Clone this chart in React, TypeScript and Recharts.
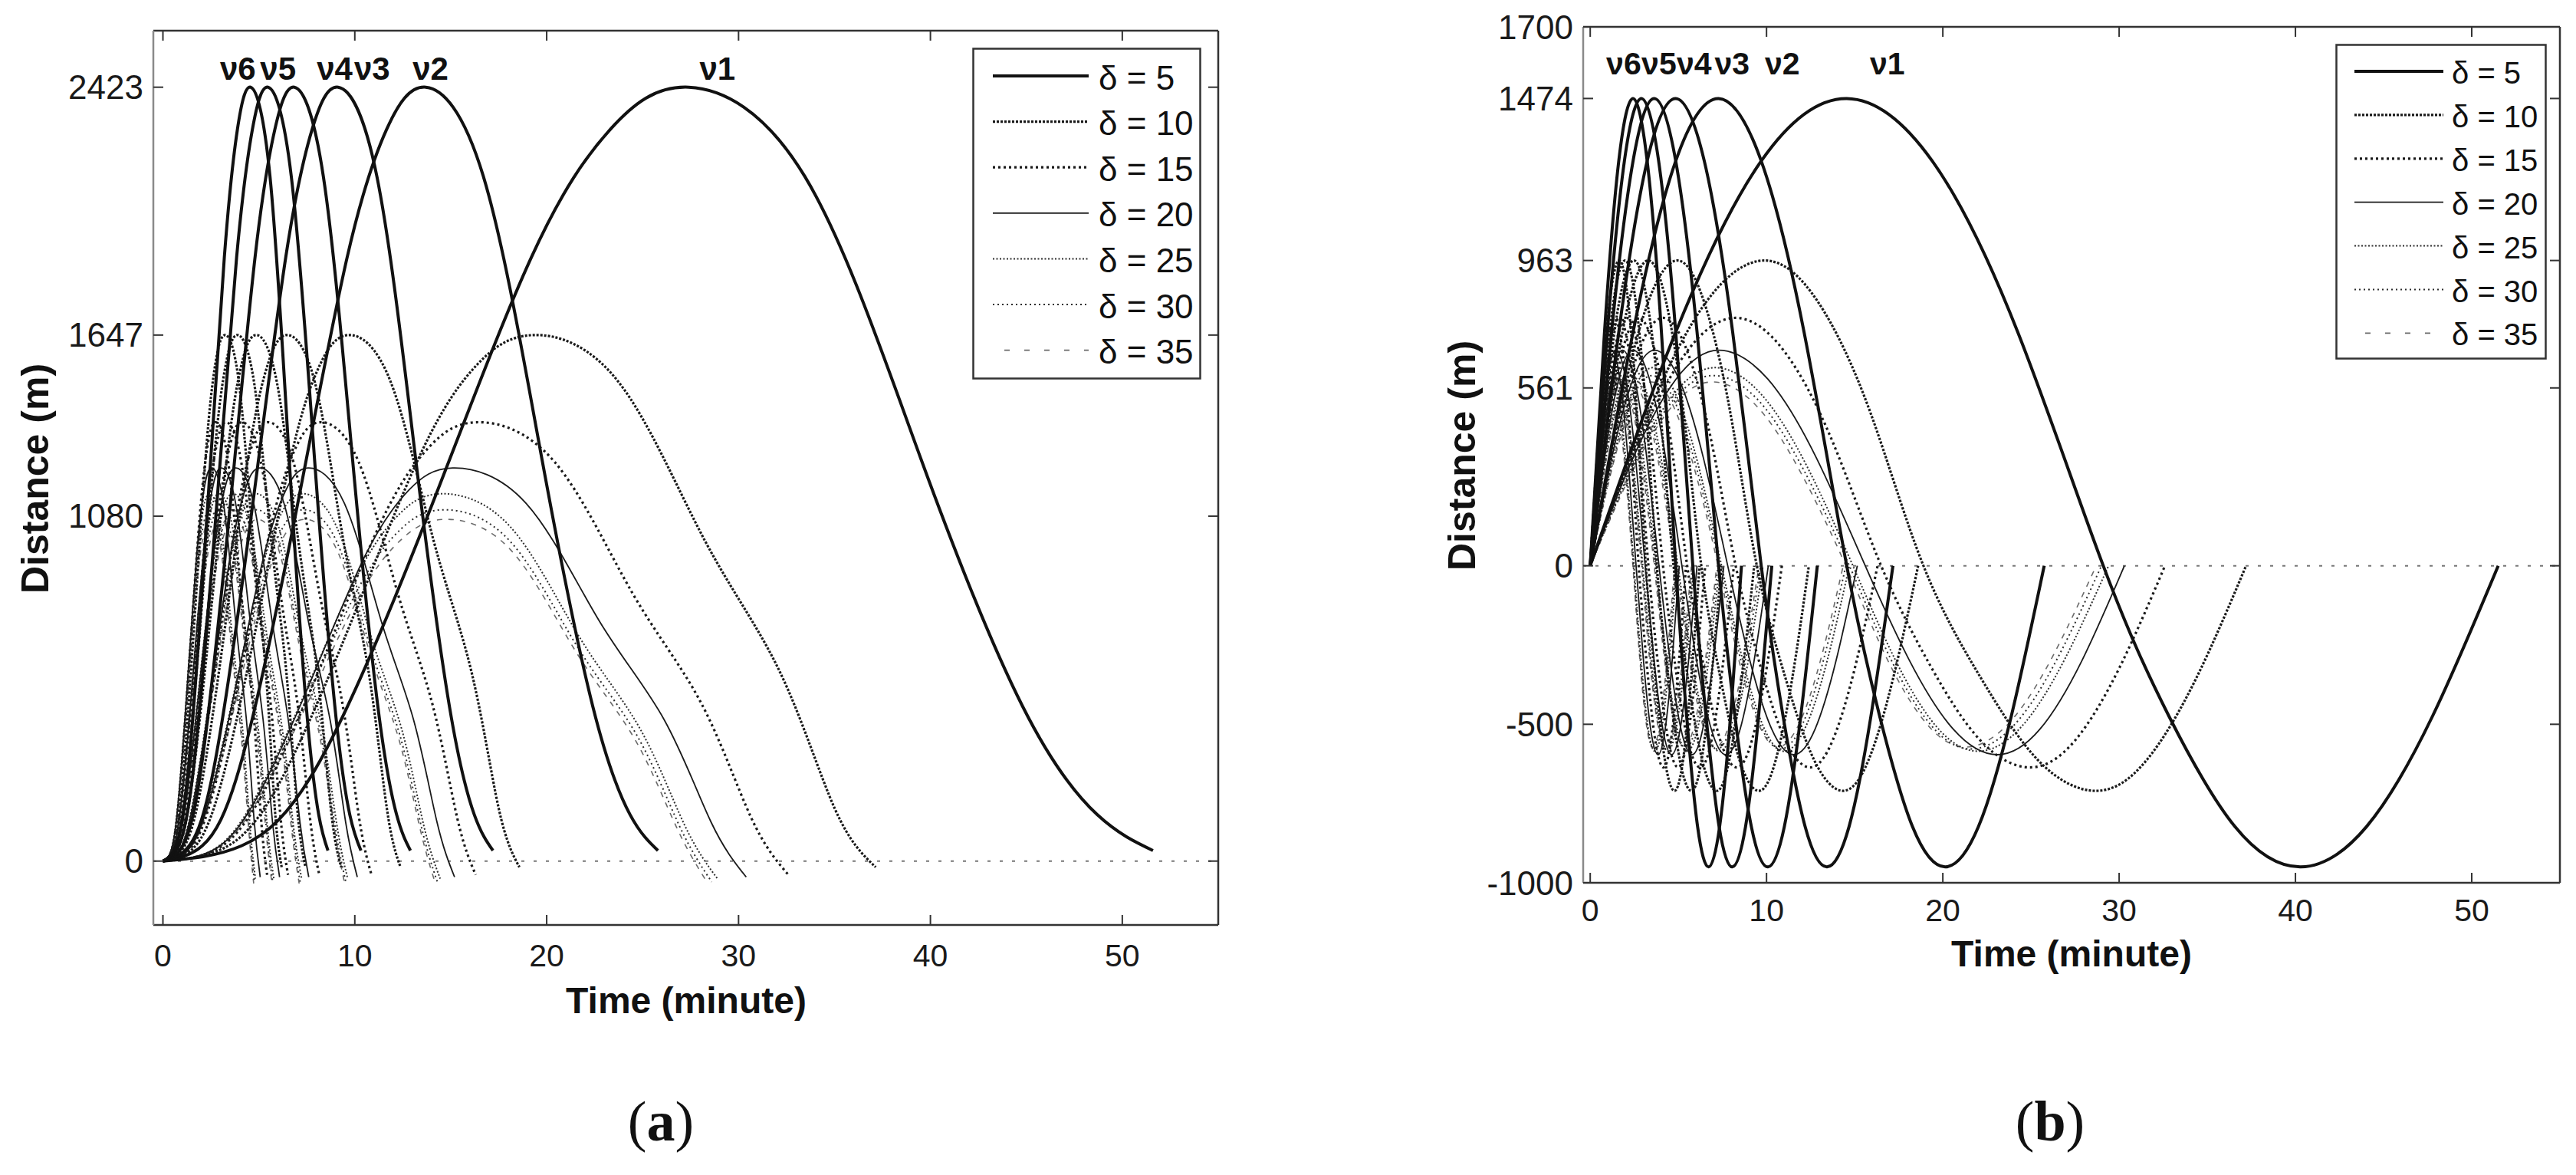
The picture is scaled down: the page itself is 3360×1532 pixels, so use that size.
import React from "react";
import { LineChart, Line, XAxis, YAxis, ReferenceLine, ReferenceDot, Legend, Label } from "recharts";

// ---- shared categories / ticks ----
const deltas = [5, 10, 15, 20, 25, 30, 35];
const timeTicks = [0, 10, 20, 30, 40, 50];
const distTicksA = [0, 1080, 1647, 2423];
const distTicksB = [-1000, -500, 0, 561, 963, 1474, 1700];
const nuNames = ["ν6", "ν5", "ν4", "ν3", "ν2", "ν1"];
const nuLabelTimeA = [3.91, 6.0, 8.95, 10.9, 13.95, 28.9];
const nuLabelTimeB = [1.9, 3.9, 5.9, 8.05, 10.9, 16.85];
const nuLabelDistA = 2482;
const nuLabelDistB = 1585;

// ---- panel (a): distance samples per delta, times per nu (nu1..nu6) ----
const aDist5 = [0, 48, 315, 1066, 1890, 2290, 2423, 2144, 1260, 485, 145, 33];
const aDist10 = [0, 33, 214, 725, 1285, 1556, 1647, 1499, 1005, 593, 165, -19];
const aDist15 = [0, 27, 179, 605, 1072, 1298, 1374, 1250, 838, 495, 137, -43];
const aDist20 = [0, 25, 160, 542, 960, 1163, 1231, 1120, 751, 443, 123, -50];
const aDist25 = [0, 23, 150, 506, 897, 1087, 1150, 1047, 702, 414, 115, -55];
const aDist30 = [0, 22, 143, 484, 858, 1040, 1100, 1001, 671, 396, 110, -65];
const aDist35 = [0, 21, 139, 471, 835, 1011, 1070, 974, 653, 385, 107, -70];

const aTime5 = [
  [0, 4.1, 8.2, 13.7, 19.2, 23.3, 27.4, 33.45, 39.5, 44.8, 48.7, 51.6],
  [0, 2.05, 4.1, 6.85, 9.6, 11.65, 13.7, 16.7, 19.75, 22.4, 24.35, 25.8],
  [0, 1.37, 2.73, 4.57, 6.4, 7.77, 9.13, 11.15, 13.17, 14.93, 16.23, 17.2],
  [0, 1.03, 2.05, 3.43, 4.8, 5.83, 6.85, 8.36, 9.88, 11.2, 12.18, 12.9],
  [0, 0.82, 1.64, 2.74, 3.84, 4.66, 5.48, 6.69, 7.9, 8.96, 9.74, 10.32],
  [0, 0.68, 1.37, 2.28, 3.2, 3.88, 4.57, 5.58, 6.58, 7.47, 8.12, 8.6],
];
const aTime10 = [
  [0, 2.9, 5.79, 9.65, 13.51, 16.4, 19.3, 23.76, 28.23, 32.15, 35.01, 37.15],
  [0, 1.45, 2.9, 4.83, 6.75, 8.2, 9.65, 11.88, 14.1, 16.08, 17.5, 18.58],
  [0, 0.97, 1.93, 3.22, 4.5, 5.47, 6.43, 7.92, 9.4, 10.72, 11.67, 12.38],
  [0, 0.73, 1.45, 2.41, 3.38, 4.1, 4.83, 5.94, 7.05, 8.04, 8.75, 9.29],
  [0, 0.58, 1.16, 1.93, 2.7, 3.28, 3.86, 4.75, 5.64, 6.43, 7.0, 7.43],
  [0, 0.48, 0.97, 1.61, 2.25, 2.73, 3.22, 3.96, 4.7, 5.36, 5.83, 6.19],
];
const aTime15 = [
  [0, 2.45, 4.9, 8.18, 11.45, 13.9, 16.35, 20.41, 24.48, 28.05, 30.65, 32.6],
  [0, 1.23, 2.45, 4.09, 5.73, 6.95, 8.18, 10.2, 12.24, 14.03, 15.33, 16.3],
  [0, 0.82, 1.63, 2.73, 3.82, 4.63, 5.45, 6.8, 8.16, 9.35, 10.22, 10.87],
  [0, 0.61, 1.23, 2.05, 2.86, 3.48, 4.09, 5.1, 6.12, 7.01, 7.66, 8.15],
  [0, 0.49, 0.98, 1.64, 2.29, 2.78, 3.27, 4.08, 4.9, 5.61, 6.13, 6.52],
  [0, 0.41, 0.82, 1.36, 1.91, 2.32, 2.73, 3.4, 4.08, 4.68, 5.11, 5.43],
];
const aTime20 = [
  [0, 2.27, 4.53, 7.55, 10.57, 12.84, 15.1, 18.93, 22.75, 26.12, 28.56, 30.4],
  [0, 1.13, 2.27, 3.78, 5.28, 6.42, 7.55, 9.46, 11.38, 13.06, 14.28, 15.2],
  [0, 0.76, 1.51, 2.52, 3.52, 4.28, 5.03, 6.31, 7.58, 8.71, 9.52, 10.13],
  [0, 0.57, 1.13, 1.89, 2.64, 3.21, 3.78, 4.73, 5.69, 6.53, 7.14, 7.6],
  [0, 0.45, 0.91, 1.51, 2.11, 2.57, 3.02, 3.79, 4.55, 5.22, 5.71, 6.08],
  [0, 0.38, 0.76, 1.26, 1.76, 2.14, 2.52, 3.16, 3.79, 4.35, 4.76, 5.07],
];
const aTime25 = [
  [0, 2.18, 4.35, 7.25, 10.15, 12.33, 14.5, 18.1, 21.7, 24.87, 27.17, 28.9],
  [0, 1.09, 2.18, 3.63, 5.08, 6.16, 7.25, 9.05, 10.85, 12.44, 13.58, 14.45],
  [0, 0.73, 1.45, 2.42, 3.38, 4.11, 4.83, 6.03, 7.23, 8.29, 9.06, 9.63],
  [0, 0.54, 1.09, 1.81, 2.54, 3.08, 3.63, 4.53, 5.43, 6.22, 6.79, 7.23],
  [0, 0.44, 0.87, 1.45, 2.03, 2.47, 2.9, 3.62, 4.34, 4.97, 5.43, 5.78],
  [0, 0.36, 0.73, 1.21, 1.69, 2.06, 2.42, 3.02, 3.62, 4.15, 4.53, 4.82],
];
const aTime30 = [
  [0, 2.19, 4.38, 7.3, 10.22, 12.41, 14.6, 18.1, 21.6, 24.68, 26.92, 28.6],
  [0, 1.1, 2.19, 3.65, 5.11, 6.21, 7.3, 9.05, 10.8, 12.34, 13.46, 14.3],
  [0, 0.73, 1.46, 2.43, 3.41, 4.14, 4.87, 6.03, 7.2, 8.23, 8.97, 9.53],
  [0, 0.55, 1.1, 1.83, 2.56, 3.1, 3.65, 4.53, 5.4, 6.17, 6.73, 7.15],
  [0, 0.44, 0.88, 1.46, 2.04, 2.48, 2.92, 3.62, 4.32, 4.94, 5.38, 5.72],
  [0, 0.37, 0.73, 1.22, 1.7, 2.07, 2.43, 3.02, 3.6, 4.11, 4.49, 4.77],
];
const aTime35 = [
  [0, 2.2, 4.41, 7.35, 10.29, 12.5, 14.7, 18.13, 21.55, 24.56, 26.76, 28.4],
  [0, 1.1, 2.21, 3.68, 5.15, 6.25, 7.35, 9.07, 10.78, 12.28, 13.38, 14.2],
  [0, 0.73, 1.47, 2.45, 3.43, 4.17, 4.9, 6.04, 7.18, 8.19, 8.92, 9.47],
  [0, 0.55, 1.1, 1.84, 2.57, 3.13, 3.68, 4.53, 5.39, 6.14, 6.69, 7.1],
  [0, 0.44, 0.88, 1.47, 2.06, 2.5, 2.94, 3.63, 4.31, 4.91, 5.35, 5.68],
  [0, 0.37, 0.74, 1.23, 1.72, 2.08, 2.45, 3.02, 3.59, 4.09, 4.46, 4.73],
];

// ---- panel (b) ----
const bDist5 = [0, 737, 1277, 1474, 1277, 737, 0, -475, -823, -950, -823, -475, 0];
const bDist10 = [0, 482, 834, 963, 834, 482, 0, -355, -615, -710, -615, -355, 0];
const bDist15 = [0, 391, 677, 782, 677, 391, 0, -318, -551, -636, -551, -318, 0];
const bDist20 = [0, 340, 589, 680, 589, 340, 0, -298, -516, -596, -516, -298, 0];
const bDist25 = [0, 313, 541, 625, 541, 313, 0, -293, -507, -585, -507, -293, 0];
const bDist30 = [0, 300, 520, 600, 520, 300, 0, -289, -501, -578, -501, -289, 0];
const bDist35 = [0, 290, 502, 580, 502, 290, 0, -286, -495, -572, -495, -286, 0];

const bTime5 = [
  [0, 4.85, 9.7, 14.55, 19.4, 24.25, 29.1, 32.83, 36.57, 40.3, 44.03, 47.77, 51.5],
  [0, 2.43, 4.85, 7.28, 9.7, 12.13, 14.55, 16.42, 18.28, 20.15, 22.02, 23.88, 25.75],
  [0, 1.62, 3.23, 4.85, 6.47, 8.08, 9.7, 10.94, 12.19, 13.43, 14.68, 15.92, 17.17],
  [0, 1.21, 2.43, 3.64, 4.85, 6.06, 7.28, 8.21, 9.14, 10.08, 11.01, 11.94, 12.88],
  [0, 0.97, 1.94, 2.91, 3.88, 4.85, 5.82, 6.57, 7.31, 8.06, 8.81, 9.55, 10.3],
  [0, 0.81, 1.62, 2.43, 3.23, 4.04, 4.85, 5.47, 6.09, 6.72, 7.34, 7.96, 8.58],
];
const bTime10 = [
  [0, 3.3, 6.6, 9.9, 12.9, 15.9, 18.9, 22.17, 25.43, 28.7, 31.53, 34.37, 37.2],
  [0, 1.65, 3.3, 4.95, 6.45, 7.95, 9.45, 11.08, 12.72, 14.35, 15.77, 17.18, 18.6],
  [0, 1.1, 2.2, 3.3, 4.3, 5.3, 6.3, 7.39, 8.48, 9.57, 10.51, 11.46, 12.4],
  [0, 0.83, 1.65, 2.48, 3.23, 3.98, 4.73, 5.54, 6.36, 7.18, 7.88, 8.59, 9.3],
  [0, 0.66, 1.32, 1.98, 2.58, 3.18, 3.78, 4.43, 5.09, 5.74, 6.31, 6.87, 7.44],
  [0, 0.55, 1.1, 1.65, 2.15, 2.65, 3.15, 3.7, 4.24, 4.78, 5.26, 5.73, 6.2],
];
const bTime15 = [
  [0, 2.75, 5.5, 8.25, 11.0, 13.75, 16.5, 19.32, 22.13, 24.95, 27.5, 30.05, 32.6],
  [0, 1.38, 2.75, 4.13, 5.5, 6.88, 8.25, 9.66, 11.07, 12.48, 13.75, 15.03, 16.3],
  [0, 0.92, 1.83, 2.75, 3.67, 4.58, 5.5, 6.44, 7.38, 8.32, 9.17, 10.02, 10.87],
  [0, 0.69, 1.38, 2.06, 2.75, 3.44, 4.13, 4.83, 5.53, 6.24, 6.88, 7.51, 8.15],
  [0, 0.55, 1.1, 1.65, 2.2, 2.75, 3.3, 3.86, 4.43, 4.99, 5.5, 6.01, 6.52],
  [0, 0.46, 0.92, 1.38, 1.83, 2.29, 2.75, 3.22, 3.69, 4.16, 4.58, 5.01, 5.43],
];
const bTime20 = [
  [0, 2.43, 4.87, 7.3, 10.07, 12.83, 15.6, 18.1, 20.6, 23.1, 25.5, 27.9, 30.3],
  [0, 1.22, 2.43, 3.65, 5.03, 6.42, 7.8, 9.05, 10.3, 11.55, 12.75, 13.95, 15.15],
  [0, 0.81, 1.62, 2.43, 3.36, 4.28, 5.2, 6.03, 6.87, 7.7, 8.5, 9.3, 10.1],
  [0, 0.61, 1.22, 1.83, 2.52, 3.21, 3.9, 4.53, 5.15, 5.78, 6.38, 6.98, 7.58],
  [0, 0.49, 0.97, 1.46, 2.01, 2.57, 3.12, 3.62, 4.12, 4.62, 5.1, 5.58, 6.06],
  [0, 0.41, 0.81, 1.22, 1.68, 2.14, 2.6, 3.02, 3.43, 3.85, 4.25, 4.65, 5.05],
];
const bTime25 = [
  [0, 2.37, 4.73, 7.1, 9.7, 12.3, 14.9, 17.27, 19.63, 22.0, 24.47, 26.93, 29.4],
  [0, 1.18, 2.37, 3.55, 4.85, 6.15, 7.45, 8.63, 9.82, 11.0, 12.23, 13.47, 14.7],
  [0, 0.79, 1.58, 2.37, 3.23, 4.1, 4.97, 5.76, 6.54, 7.33, 8.16, 8.98, 9.8],
  [0, 0.59, 1.18, 1.78, 2.43, 3.08, 3.73, 4.32, 4.91, 5.5, 6.12, 6.73, 7.35],
  [0, 0.47, 0.95, 1.42, 1.94, 2.46, 2.98, 3.45, 3.93, 4.4, 4.89, 5.39, 5.88],
  [0, 0.39, 0.79, 1.18, 1.62, 2.05, 2.48, 2.88, 3.27, 3.67, 4.08, 4.49, 4.9],
];
const bTime30 = [
  [0, 2.33, 4.67, 7.0, 9.57, 12.13, 14.7, 17.0, 19.3, 21.6, 24.07, 26.53, 29.0],
  [0, 1.17, 2.33, 3.5, 4.78, 6.07, 7.35, 8.5, 9.65, 10.8, 12.03, 13.27, 14.5],
  [0, 0.78, 1.56, 2.33, 3.19, 4.04, 4.9, 5.67, 6.43, 7.2, 8.02, 8.84, 9.67],
  [0, 0.58, 1.17, 1.75, 2.39, 3.03, 3.68, 4.25, 4.83, 5.4, 6.02, 6.63, 7.25],
  [0, 0.47, 0.93, 1.4, 1.91, 2.43, 2.94, 3.4, 3.86, 4.32, 4.81, 5.31, 5.8],
  [0, 0.39, 0.78, 1.17, 1.6, 2.02, 2.45, 2.83, 3.22, 3.6, 4.01, 4.42, 4.83],
];
const bTime35 = [
  [0, 2.32, 4.63, 6.95, 9.47, 11.98, 14.5, 16.77, 19.03, 21.3, 23.77, 26.23, 28.7],
  [0, 1.16, 2.32, 3.48, 4.73, 5.99, 7.25, 8.38, 9.52, 10.65, 11.88, 13.12, 14.35],
  [0, 0.77, 1.54, 2.32, 3.16, 3.99, 4.83, 5.59, 6.34, 7.1, 7.92, 8.74, 9.57],
  [0, 0.58, 1.16, 1.74, 2.37, 3.0, 3.63, 4.19, 4.76, 5.33, 5.94, 6.56, 7.18],
  [0, 0.46, 0.93, 1.39, 1.89, 2.4, 2.9, 3.35, 3.81, 4.26, 4.75, 5.25, 5.74],
  [0, 0.39, 0.77, 1.16, 1.58, 2.0, 2.42, 2.8, 3.17, 3.55, 3.96, 4.37, 4.78],
];

// ---- styles ----
const FONT = '"Liberation Sans", Arial, Helvetica, sans-serif';
const SERIF = '"Liberation Serif", "DejaVu Serif", serif';
const AXIS = "#333";
const TICK_LEN = 13;

const lineStyles = [
  { stroke: "#111", width: 4, dash: undefined as string | undefined, legendDash: undefined as string | undefined },
  { stroke: "#1a1a1a", width: 3.2, dash: "3 2", legendDash: "3 2" },
  { stroke: "#1a1a1a", width: 3.2, dash: "3 4", legendDash: "3 4" },
  { stroke: "#1a1a1a", width: 1.8, dash: undefined, legendDash: undefined },
  { stroke: "#2e2e2e", width: 2, dash: "2 2.5", legendDash: "2 2.5" },
  { stroke: "#2e2e2e", width: 2, dash: "2 4", legendDash: "2 4" },
  { stroke: "#6a6a6a", width: 1.6, dash: "7 8", legendDash: "7 19" },
];

type Curve = { di: number; ni: number; points: { t: number; d: number }[] };

function buildCurves(dists: number[][], times: number[][][]): Curve[] {
  const out: Curve[] = [];
  dists.forEach((dist, di) => {
    times[di].forEach((ts, ni) => {
      out.push({ di, ni, points: ts.map((t, i) => ({ t, d: dist[i] })) });
    });
  });
  // thin styles first so the thick delta = 5 curves end on top
  return out.sort((a, b) => b.di - a.di);
}

const curvesA = buildCurves(
  [aDist5, aDist10, aDist15, aDist20, aDist25, aDist30, aDist35],
  [aTime5, aTime10, aTime15, aTime20, aTime25, aTime30, aTime35]
);
const curvesB = buildCurves(
  [bDist5, bDist10, bDist15, bDist20, bDist25, bDist30, bDist35],
  [bTime5, bTime10, bTime15, bTime20, bTime25, bTime30, bTime35]
);

// ---- ticks (inward tick marks, MATLAB-like box) ----
const bottomTick = (gap: number) => (p: any) => (
  <g>
    <line x1={p.x} x2={p.x} y1={p.y} y2={p.y - TICK_LEN} stroke={AXIS} strokeWidth={2} />
    <text x={p.x} y={p.y + gap} textAnchor="middle" fontSize={41} fontFamily={FONT} fill="#1a1a1a">
      {p.payload.value}
    </text>
  </g>
);
const leftTick = (p: any) => (
  <g>
    <line x1={p.x} x2={p.x + TICK_LEN} y1={p.y} y2={p.y} stroke={AXIS} strokeWidth={2} />
    <text x={p.x - 13} y={p.y} textAnchor="end" dominantBaseline="central" fontSize={44} fontFamily={FONT} fill="#1a1a1a">
      {p.payload.value}
    </text>
  </g>
);
const topTick = (p: any) => (
  <line x1={p.x} x2={p.x} y1={p.y} y2={p.y + TICK_LEN} stroke={AXIS} strokeWidth={2} />
);
const rightTick = (p: any) => (
  <line x1={p.x} x2={p.x - TICK_LEN} y1={p.y} y2={p.y} stroke={AXIS} strokeWidth={2} />
);

function DeltaLegend(props: { w: number; h: number; row0: number; step: number; x1: number; x2: number; x35: number; tx: number; fs: number }) {
  const { w, h, row0, step, x1, x2, x35, tx, fs } = props;
  return (
    <svg width={w} height={h} style={{ display: "block" }}>
      <rect x={1.5} y={1.5} width={w - 3} height={h - 3} fill="#fff" stroke="#333" strokeWidth={2.5} />
      {deltas.map((dl, i) => {
        const y = row0 + i * step;
        const s = lineStyles[i];
        return (
          <g key={dl}>
            <line
              x1={i === 6 ? x35 : x1}
              x2={x2}
              y1={y}
              y2={y}
              stroke={s.stroke}
              strokeWidth={s.width}
              strokeDasharray={s.legendDash}
            />
            <text x={tx} y={y + 2} dominantBaseline="central" fontSize={fs} fontFamily={FONT} fill="#111">
              {`δ = ${dl}`}
            </text>
          </g>
        );
      })}
    </svg>
  );
}

type PanelProps = {
  left: number;
  width: number;
  height: number;
  margin: { top: number; right: number; bottom: number; left: number };
  xDomain: [number, number];
  yDomain: [number, number];
  yTicks: number[];
  curves: Curve[];
  nuTimes: number[];
  nuDist: number;
  nuSize: number;
  xGap: number;
  timeTitle: { x: number; y: number };
  distTitle: { x: number; y: number };
  caption: { x: number; y: number; letter: string };
  legend: { left: number; top: number; w: number; h: number; row0: number; step: number; x1: number; x2: number; x35: number; tx: number; fs: number };
};

function Panel(p: PanelProps) {
  return (
    <div style={{ position: "absolute", left: p.left, top: 0 }}>
      <LineChart width={p.width} height={p.height} margin={p.margin}>
        <XAxis
          xAxisId="top"
          orientation="top"
          type="number"
          dataKey="t"
          domain={p.xDomain}
          allowDataOverflow
          ticks={timeTicks}
          interval={0}
          height={1}
          tickSize={0}
          tickMargin={0}
          tickLine={false}
          tick={topTick}
          axisLine={{ stroke: AXIS, strokeWidth: 2.5 }}
        />
        <YAxis
          yAxisId="right"
          orientation="right"
          type="number"
          domain={p.yDomain}
          allowDataOverflow
          ticks={p.yTicks}
          interval={0}
          width={1}
          tickSize={0}
          tickMargin={0}
          tickLine={false}
          tick={rightTick}
          axisLine={{ stroke: AXIS, strokeWidth: 2.5 }}
        />
        <XAxis
          type="number"
          dataKey="t"
          domain={p.xDomain}
          allowDataOverflow
          ticks={timeTicks}
          interval={0}
          height={120}
          tickSize={0}
          tickMargin={0}
          tickLine={false}
          tick={bottomTick(p.xGap)}
          axisLine={{ stroke: AXIS, strokeWidth: 2.5 }}
        >
          <Label
            content={() => (
              <g>
                <text x={p.timeTitle.x} y={p.timeTitle.y} textAnchor="middle" fontSize={48} fontWeight="bold" fontFamily={FONT} fill="#111">
                  Time (minute)
                </text>
                <text x={p.caption.x} y={p.caption.y} textAnchor="middle" fontSize={74} fontFamily={SERIF} fill="#111">
                  (<tspan fontWeight="bold">{p.caption.letter}</tspan>)
                </text>
              </g>
            )}
          />
        </XAxis>
        <YAxis
          type="number"
          domain={p.yDomain}
          allowDataOverflow
          ticks={p.yTicks}
          interval={0}
          width={150}
          tickSize={0}
          tickMargin={0}
          tickLine={false}
          tick={leftTick}
          axisLine={{ stroke: "#8a8a8a", strokeWidth: 2.5 }}
        >
          <Label
            content={() => (
              <text
                x={p.distTitle.x}
                y={p.distTitle.y}
                transform={`rotate(-90 ${p.distTitle.x} ${p.distTitle.y})`}
                textAnchor="middle"
                dominantBaseline="central"
                fontSize={50}
                fontWeight="bold"
                fontFamily={FONT}
                fill="#111"
              >
                Distance (m)
              </text>
            )}
          />
        </YAxis>
        <ReferenceLine y={0} stroke="#777" strokeWidth={2} strokeDasharray="4 12" ifOverflow="visible" />
        {p.curves.map((c) => {
          const s = lineStyles[c.di];
          return (
            <Line
              key={`d${deltas[c.di]}-v${c.ni + 1}`}
              data={c.points}
              dataKey="d"
              type="natural"
              stroke={s.stroke}
              strokeWidth={s.width}
              strokeDasharray={s.dash}
              dot={false}
              activeDot={false}
              isAnimationActive={false}
            />
          );
        })}
        {nuNames.map((n, i) => (
          <ReferenceDot
            key={n}
            x={p.nuTimes[i]}
            y={p.nuDist}
            r={1}
            fill="none"
            stroke="none"
            ifOverflow="visible"
            label={{ value: n, position: "center", fontSize: p.nuSize, fontWeight: "bold", fontFamily: FONT, fill: "#111" }}
          />
        ))}
        <Legend
          layout="vertical"
          align="center"
          verticalAlign="middle"
          wrapperStyle={{ left: p.legend.left, top: p.legend.top, width: p.legend.w, height: p.legend.h }}
          content={() => <DeltaLegend {...p.legend} />}
        />
      </LineChart>
    </div>
  );
}

export default function App() {
  return (
    <div style={{ position: "absolute", left: 0, top: 0, width: 3360, height: 1532, background: "#fff", overflow: "hidden" }}>
      <Panel
        left={0}
        width={1700}
        height={1532}
        margin={{ top: 39, right: 110, bottom: 206, left: 50 }}
        xDomain={[-0.5, 55]}
        yDomain={[-200, 2600]}
        yTicks={distTicksA}
        curves={curvesA}
        nuTimes={nuLabelTimeA}
        nuDist={nuLabelDistA}
        nuSize={42}
        xGap={54}
        timeTitle={{ x: 895, y: 1321 }}
        distTitle={{ x: 46, y: 624 }}
        caption={{ x: 862, y: 1487, letter: "a" }}
        legend={{ left: 1268, top: 62, w: 299, h: 433, row0: 37, step: 59.6, x1: 27, x2: 152, x35: 42, tx: 165, fs: 44 }}
      />
      <Panel
        left={1700}
        width={1660}
        height={1532}
        margin={{ top: 34, right: 20, bottom: 261, left: 215 }}
        xDomain={[-0.4, 55]}
        yDomain={[-1000, 1700]}
        yTicks={distTicksB}
        curves={curvesB}
        nuTimes={nuLabelTimeB}
        nuDist={nuLabelDistB}
        nuSize={41}
        xGap={50}
        timeTitle={{ x: 1002, y: 1260 }}
        distTitle={{ x: 207, y: 594 }}
        caption={{ x: 974, y: 1487, letter: "b" }}
        legend={{ left: 1346, top: 57, w: 276, h: 412, row0: 36, step: 56.9, x1: 25, x2: 141, x35: 39, tx: 152, fs: 40 }}
      />
    </div>
  );
}
